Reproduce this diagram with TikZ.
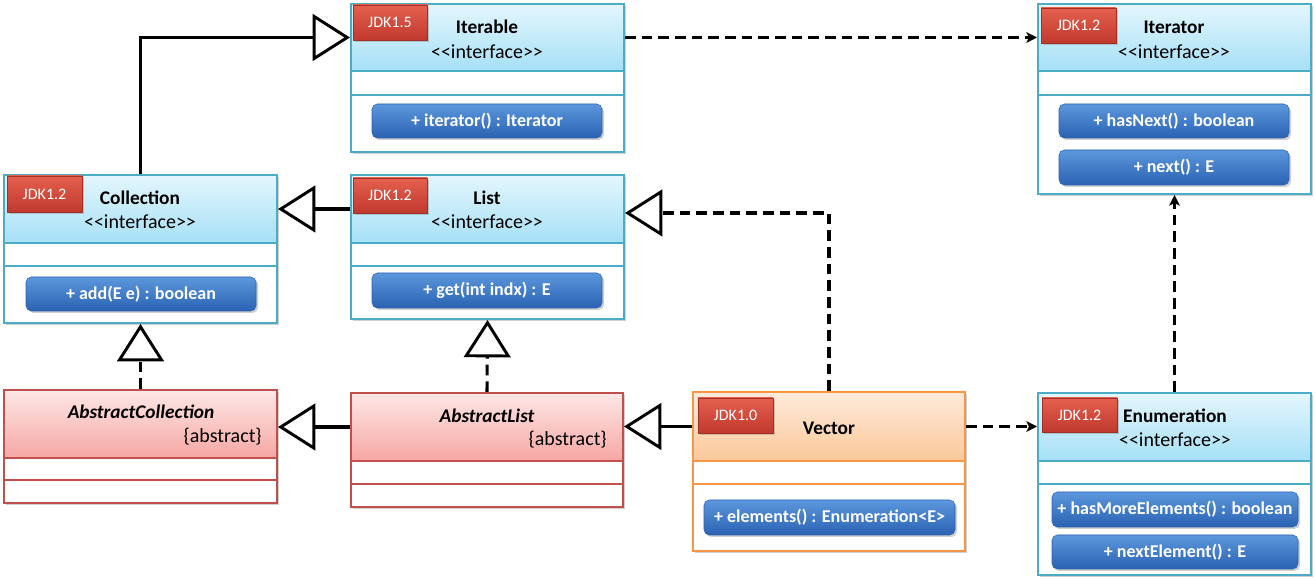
\documentclass[tikz,border=0pt]{standalone}
\usepackage{fontspec}
\setmainfont{Carlito}
\usetikzlibrary{fit,shadows,arrows.meta}
\definecolor{ifTop}{HTML}{E4F6FD}
\definecolor{ifBot}{HTML}{A6E0F6}
\definecolor{ifLine}{HTML}{4BACC6}
\definecolor{abTop}{HTML}{FDE7E6}
\definecolor{abBot}{HTML}{F6A7A3}
\definecolor{abLine}{HTML}{C0504D}
\definecolor{veTop}{HTML}{FEEBDC}
\definecolor{veBot}{HTML}{FBC899}
\definecolor{veLine}{HTML}{F79646}
\definecolor{tgTop}{HTML}{E5604E}
\definecolor{tgBot}{HTML}{C0392E}
\definecolor{btTop}{HTML}{5C97DC}
\definecolor{btBot}{HTML}{2A62B2}
\tikzset{
 shd/.style={drop shadow={shadow xshift=1.5pt, shadow yshift=-1.5pt, opacity=0.3, fill=black!60}},
 ifbox/.style={draw=ifLine, line width=1.5pt, fill=white, inner sep=0pt, shd},
 ifhdr/.style={draw=ifLine, line width=1.5pt, top color=ifTop, bottom color=ifBot, inner sep=0pt},
 ifline/.style={draw=ifLine, line width=1.5pt},
 abbox/.style={draw=abLine, line width=1.5pt, fill=white, inner sep=0pt, shd},
 abhdr/.style={draw=abLine, line width=1.5pt, top color=abTop, bottom color=abBot, inner sep=0pt},
 abline/.style={draw=abLine, line width=1.5pt},
 vebox/.style={draw=veLine, line width=1.5pt, fill=white, inner sep=0pt, shd},
 vehdr/.style={draw=veLine, line width=1.5pt, top color=veTop, bottom color=veBot, inner sep=0pt},
 veline/.style={draw=veLine, line width=1.5pt},
 tag/.style={top color=tgTop, bottom color=tgBot, draw=tgBot!85!black, line width=0.4pt, inner sep=0pt, text=white, font=\fontsize{12}{14}\selectfont, shd},
 btn/.style={rounded corners=4pt, top color=btTop, bottom color=btBot, draw=btBot, line width=0.4pt, inner sep=0pt, text=white, font=\bfseries\fontsize{13.5}{16}\selectfont, shd},
 ttl/.style={font=\bfseries\fontsize{14.5}{17}\selectfont, inner sep=0pt},
 ster/.style={font=\fontsize{15}{17}\selectfont, inner sep=0pt},
 absttl/.style={font=\bfseries\itshape\fontsize{14.5}{17}\selectfont, inner sep=0pt},
 conn/.style={line width=2.3pt, draw=black},
 dsh/.style={conn, dash pattern=on 8pt off 4.5pt},
 gen/.style={-{Triangle[open, length=28pt, width=35pt, line width=2.2pt]}},
 dep/.style={-{Stealth[length=8pt, width=8pt, inset=2pt]}},
}
\newcommand\umlclass[8]{%
 \coordinate (#1nw) at (#2,#3);
 \coordinate (#1se) at (#4,#7);
 \coordinate (#1hse) at (#4,#5);
 \node[#8box, fit=(#1nw)(#1se)] (#1) {};
 \node[#8hdr, fit=(#1nw)(#1hse)] (#1h) {};
 \draw[#8line] (#2,#6) -- (#4,#6);
}
\newcommand\fitbox[7]{%
 \node[#6, minimum width={(#4-#2)*0.75pt}, minimum height={(#5-#3)*0.75pt}] (#1) at ({(#2+#4)/2},{(#3+#5)/2}) {#7};
}
\newcommand\stereo{<\kern0pt<interface>\kern0pt>}
\begin{document}
\begin{tikzpicture}[x=0.75pt,y=-0.75pt]
\useasboundingbox (0,0) rectangle (1315,580);
\fill[white] (0,0) rectangle (1315,580);

% classes
\umlclass{iterable}{351}{4}{624}{71}{95}{152}{if}
\umlclass{iterator}{1038}{4}{1311}{71}{95}{194}{if}
\umlclass{collection}{4}{175}{277}{243}{266}{323}{if}
\umlclass{list}{351}{175}{624}{243}{266}{319}{if}
\umlclass{abscoll}{4}{390}{277}{458}{480}{503}{ab}
\umlclass{abslist}{351}{393}{623}{461}{484}{507}{ab}
\umlclass{vector}{693}{392}{965}{461}{484}{551}{ve}
\umlclass{enum}{1038}{393}{1311}{461}{484}{575}{if}

% tags
\fitbox{tagiterable}{353}{5}{427}{40}{tag}{JDK1.5}
\fitbox{tagiterator}{1041}{8}{1116}{43}{tag}{JDK1.2}
\fitbox{tagcollection}{7}{176}{82}{212}{tag}{JDK1.2}
\fitbox{taglist}{353}{178}{427}{213}{tag}{JDK1.2}
\fitbox{tagvector}{698}{398}{773}{433}{tag}{JDK1.0}
\fitbox{tagenum}{1042}{398}{1117}{432}{tag}{JDK1.2}

% titles
\node[ttl] (titerable) at (487,27) {Iterable};
\node[ster] (siterable) at (487,52) {\stereo};
\node[ttl] (titerator) at (1174,27) {Iterator};
\node[ster] (siterator) at (1174,52) {\stereo};
\node[ttl] (tcollection) at (140,198) {Collection};
\node[ster] (scollection) at (140,222) {\stereo};
\node[ttl] (tlist) at (487,198) {List};
\node[ster] (slist) at (487,222) {\stereo};
\node[absttl] (tabscoll) at (141,412) {AbstractCollection};
\node[ster, anchor=east] (sabscoll) at (262,437) {\{abstract\}};
\node[absttl] (tabslist) at (487,416) {AbstractList};
\node[ster, anchor=east] (sabslist) at (607,440) {\{abstract\}};
\node[ttl] (tvector) at (829,428) {Vector};
\node[ttl] (tenum) at (1175,416) {Enumeration};
\node[ster] (senum) at (1175,440) {\stereo};

% methods
\fitbox{miterable}{372}{104}{602}{138}{btn}{+ iterator() : Iterator}
\fitbox{mhasnext}{1059}{104}{1289}{138}{btn}{+ hasNext() : boolean}
\fitbox{mnext}{1059}{150}{1289}{185}{btn}{+ next() : E}
\fitbox{madd}{26}{277}{256}{311}{btn}{+ add(E e) : boolean}
\fitbox{mget}{372}{273}{602}{308}{btn}{+ get(int indx) : E}
\fitbox{melements}{704}{500}{955}{535}{btn}{+ elements() : Enumeration<E>}
\fitbox{mhasmore}{1052}{492}{1298}{527}{btn}{+ hasMoreElements() : boolean}
\fitbox{mnextel}{1052}{535}{1298}{569}{btn}{+ nextElement() : E}

% connectors
\draw[conn,gen] (collection.north) |- (iterableh.west);
\draw[dsh,dep] (iterableh.east) -- (iteratorh.west);
\draw[conn,gen] (listh.west) -- (collectionh.east |- listh.west);
\draw[dsh,gen] (abscoll.north) -- (collection.south);
\draw[dsh,gen] (abslist.north) -- (list.south);
\draw[conn,gen] (abslisth.west) -- (abscollh.east |- abslisth.west);
\draw[conn,gen] (vectorh.west) -- (abslisth.east |- vectorh.west);
\draw[dsh,gen] (vector.north) |- ([yshift=-3pt]listh.east);
\draw[dsh,dep] (vectorh.east) -- (enumh.west |- vectorh.east);
\draw[dsh,dep] (enum.north) -- (iterator.south);
\end{tikzpicture}
\end{document}
